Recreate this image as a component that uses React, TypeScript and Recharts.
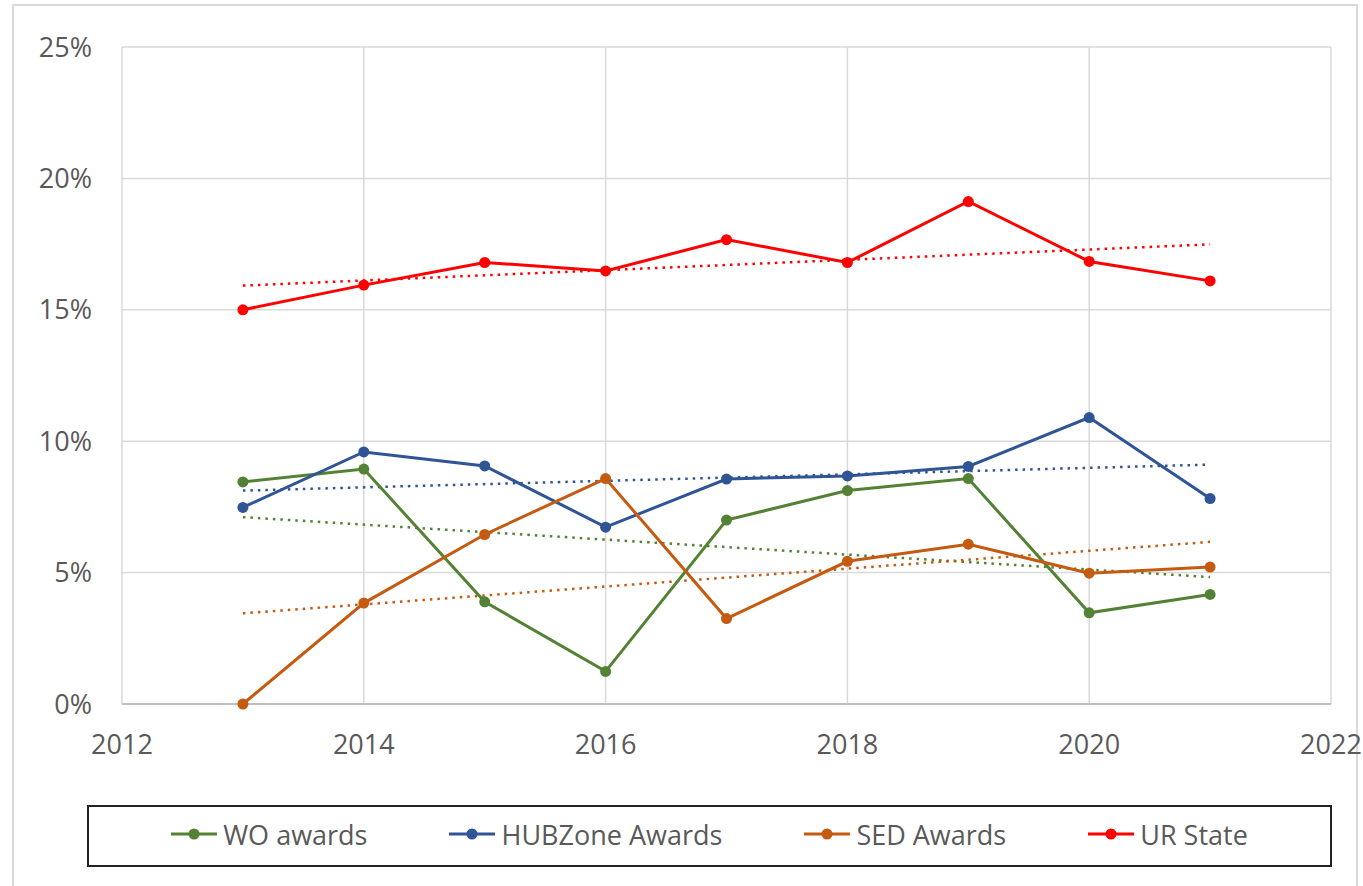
import React from "react";
import { LineChart, Line, XAxis, YAxis, CartesianGrid } from "recharts";

const years = [2013, 2014, 2015, 2016, 2017, 2018, 2019, 2020, 2021];
const woAwards = [8.45, 8.94, 3.89, 1.24, 7.0, 8.12, 8.58, 3.47, 4.17];
const hubzoneAwards = [7.48, 9.59, 9.06, 6.73, 8.56, 8.68, 9.04, 10.9, 7.82];
const sedAwards = [0, 3.84, 6.45, 8.58, 3.25, 5.43, 6.08, 4.98, 5.21];
const urState = [15.0, 15.94, 16.8, 16.48, 17.67, 16.8, 19.12, 16.84, 16.1];

// dotted trendline ends, read at 2013 and 2021
const trendYears = [2013, 2021];
const woTrend = [7.11, 4.83];
const hubTrend = [8.12, 9.11];
const sedTrend = [3.45, 6.17];
const urTrend = [15.92, 17.49];

const xTicks = [2012, 2014, 2016, 2018, 2020, 2022];
const yTicks = [0, 5, 10, 15, 20, 25];

const series = [
  { key: "wo", name: "WO awards", color: "#548235", values: woAwards, trend: woTrend },
  { key: "hub", name: "HUBZone Awards", color: "#2F5597", values: hubzoneAwards, trend: hubTrend },
  { key: "sed", name: "SED Awards", color: "#C55A11", values: sedAwards, trend: sedTrend },
  { key: "ur", name: "UR State", color: "#FF0000", values: urState, trend: urTrend },
];

const data = years.map((year, i) => {
  const row: Record<string, number> = { year };
  series.forEach((s) => {
    row[s.key] = s.values[i];
  });
  return row;
});

const font = "'Open Sans', sans-serif";
const tickStyle = { fontSize: 27, fill: "#595959", fontFamily: font };

export default function App() {
  return (
    <div style={{ position: "absolute", left: 0, top: 0, width: 1363, height: 886, background: "#fff" }}>
      <div
        style={{
          position: "absolute",
          left: 12,
          top: 4,
          width: 1346,
          height: 900,
          border: "2px solid #D9D9D9",
          boxSizing: "border-box",
        }}
      />
      <div style={{ position: "absolute", left: 0, top: 0 }}>
        <LineChart
          width={1363}
          height={780}
          data={data}
          margin={{ top: 47, right: 32, left: 0, bottom: 0 }}
        >
          <CartesianGrid stroke="#D9D9D9" strokeWidth={1.5} />
          <XAxis
            dataKey="year"
            type="number"
            domain={[2012, 2022]}
            ticks={xTicks}
            height={76}
            tickLine={false}
            axisLine={{ stroke: "#BFBFBF", strokeWidth: 2 }}
            tick={tickStyle}
            tickMargin={25}
          />
          <YAxis
            type="number"
            domain={[0, 25]}
            ticks={yTicks}
            width={122}
            tickLine={false}
            axisLine={false}
            tickSize={0}
            tickMargin={30}
            tick={tickStyle}
            tickFormatter={(v: number) => `${v}%`}
          />
          {series.map((s) => (
            <Line
              key={s.key + "-trend"}
              data={trendYears.map((year, i) => ({ year, value: s.trend[i] }))}
              dataKey="value"
              stroke={s.color}
              strokeWidth={2.5}
              strokeDasharray="2.5 5"
              dot={false}
              activeDot={false}
              isAnimationActive={false}
            />
          ))}
          {series.map((s) => (
            <Line
              key={s.key}
              dataKey={s.key}
              name={s.name}
              stroke={s.color}
              strokeWidth={3}
              dot={{ r: 5.5, fill: s.color, stroke: s.color, strokeWidth: 0 }}
              activeDot={false}
              isAnimationActive={false}
            />
          ))}
        </LineChart>
      </div>
      <div
        style={{
          position: "absolute",
          left: 87,
          top: 805,
          width: 1245,
          height: 62,
          border: "2px solid #222",
          boxSizing: "border-box",
          display: "flex",
          alignItems: "center",
          justifyContent: "center",
          gap: 82,
          paddingBottom: 4,
          fontFamily: font,
          fontSize: 27,
          color: "#595959",
        }}
      >
        {series.map((s) => (
          <div key={s.key} style={{ display: "flex", alignItems: "center" }}>
            <svg width={46} height={14} style={{ marginRight: 6 }}>
              <line x1={0} y1={7} x2={46} y2={7} stroke={s.color} strokeWidth={3} />
              <circle cx={23} cy={7} r={5.5} fill={s.color} />
            </svg>
            <span>{s.name}</span>
          </div>
        ))}
      </div>
    </div>
  );
}
